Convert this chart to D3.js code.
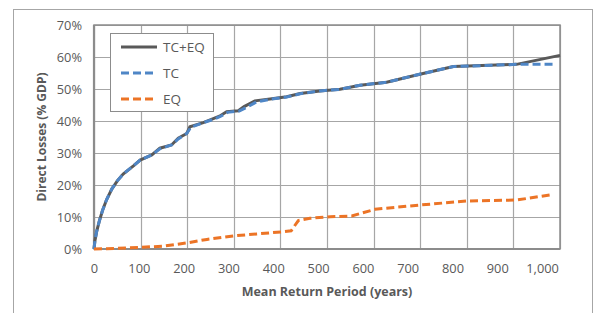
<!DOCTYPE html>
<html><head><meta charset="utf-8">
<script src="https://cdn.jsdelivr.net/npm/d3@7"></script>
<style>
html,body{margin:0;padding:0;background:#fff;}
svg{display:block;}
text{font-family:"Open Sans","Noto Sans",sans-serif;}
</style></head>
<body><svg id="c" width="594" height="313"></svg>
<script>
// ---- data ----
const seriesNames = ["TC+EQ", "TC", "EQ"];
const tcEqX = [0,2,6,12,19,28,40,52,65,88,103,129,147,173,188,207,214,244,262,280,296,322,335,359,393,430,460,504,549,594,653,720,802,943,1040];
const tcEqY = [0,2.5,5.5,8.8,12,15.4,18.8,21.3,23.4,26,27.8,29.4,31.5,32.5,34.6,36.1,38.2,39.5,40.5,41.5,42.9,43.2,44.5,46.3,46.9,47.6,48.6,49.4,49.9,51.2,52.1,54.4,57,57.7,60.5];
const tcX = [0,2,6,12,19,28,40,52,65,88,103,129,147,173,188,207,216,244,262,282,298,324,340,362,393,430,460,504,549,594,653,720,802,943,1028];
const tcY = [0,2.5,5.5,8.8,12,15.4,18.8,21.3,23.4,26,27.8,29.4,31.3,32.5,34.4,36.1,38,39.5,40.3,41.4,42.7,43.1,44.2,45.9,46.8,47.5,48.5,49.4,49.9,51.2,52.1,54.4,57,57.7,57.7];
const eqX = [0,28,103,155,207,252,311,363,422,440,456,482,527,575,627,728,832,943,1018];
const eqY = [0,0.1,0.5,0.9,1.9,3,4.1,4.7,5.4,5.7,8.9,9.6,10.1,10.3,12.4,13.75,15,15.3,16.9];
const xTickValues = [0,100,200,300,400,500,600,700,800,900,1000];
const xTickLabels = ["0","100","200","300","400","500","600","700","800","900","1,000"];
const yTickValues = [0,10,20,30,40,50,60,70];
const yTickLabels = ["0%","10%","20%","30%","40%","50%","60%","70%"];
const xGridValues = [0,104,208,312,416,520,624,728,832,936,1040];

// ---- layout ----
const svg = d3.select("#c");
const L = 94, R = 560, T = 25, B = 249;
const x = d3.scaleLinear().domain([0,1040]).range([L,R]);
const y = d3.scaleLinear().domain([0,70]).range([B,T]);
const gray = "#595959";

// outer frame
svg.append("rect").attr("x",13.5).attr("y",9.5).attr("width",579).attr("height",310)
  .attr("fill","none").attr("stroke","#a6a6a6").attr("stroke-width",1);

// gridlines
const g = svg.append("g");
g.selectAll(".hg").data(yTickValues).enter().append("line")
  .attr("x1",L).attr("x2",R).attr("y1",d=>Math.round(y(d))+0.5).attr("y2",d=>Math.round(y(d))+0.5)
  .attr("stroke","#a6a6a6").attr("stroke-width",1.2);
g.selectAll(".vg").data(xGridValues).enter().append("line")
  .attr("y1",T).attr("y2",B).attr("x1",d=>Math.round(x(d))+0.5).attr("x2",d=>Math.round(x(d))+0.5)
  .attr("stroke","#a6a6a6").attr("stroke-width",1.2);
// plot border
svg.append("rect").attr("x",L).attr("y",T).attr("width",R-L).attr("height",B-T)
  .attr("fill","none").attr("stroke","#8c8c8c").attr("stroke-width",1.5);
svg.append("line").attr("x1",L).attr("x2",R).attr("y1",B).attr("y2",B).attr("stroke","#8c8c8c").attr("stroke-width",2.2);
svg.append("line").attr("x1",L).attr("x2",L).attr("y1",T).attr("y2",B).attr("stroke","#8c8c8c").attr("stroke-width",2.2);

// axes (labels only)
const xAxis = d3.axisBottom(x).tickValues(xTickValues).tickFormat((d,i)=>xTickLabels[i]).tickSize(0).tickPadding(0);
const xa = svg.append("g").attr("transform",`translate(0,${B+14})`).call(xAxis);
xa.select(".domain").remove();
xa.selectAll("text").attr("fill",gray).attr("font-size","12.8px").attr("dy","0.32em").attr("y",6);

const yAxis = d3.axisLeft(y).tickValues(yTickValues).tickFormat((d,i)=>yTickLabels[i]).tickSize(0).tickPadding(0);
const ya = svg.append("g").attr("transform",`translate(${L-12},0)`).call(yAxis);
ya.select(".domain").remove();
ya.selectAll("text").attr("fill",gray).attr("font-size","12.8px");

// axis titles
svg.append("text").attr("x",(L+R)/2).attr("y",296).attr("text-anchor","middle")
  .attr("font-size","12.5px").attr("font-weight","bold").attr("fill",gray).text("Mean Return Period (years)");
svg.append("text").attr("transform","translate(46,137) rotate(-90)").attr("text-anchor","middle")
  .attr("font-size","12px").attr("font-weight","bold").attr("fill",gray).text("Direct Losses (% GDP)");

// lines
const line = d3.line().x(d=>x(d[0])).y(d=>y(d[1]));
const styles = [
  {color:"#595959", dash:null},
  {color:"#4f86c6", dash:"8,4"},
  {color:"#ec7426", dash:"8,4"}
];
const seriesData = [d3.zip(tcEqX,tcEqY), d3.zip(tcX,tcY), d3.zip(eqX,eqY)];
seriesData.forEach((d,i)=>{
  svg.append("path").datum(d).attr("d",line).attr("fill","none")
    .attr("stroke",styles[i].color).attr("stroke-width",3)
    .attr("stroke-dasharray",styles[i].dash);
});

// legend
const lg = svg.append("g");
lg.append("rect").attr("x",110.5).attr("y",33.5).attr("width",103).attr("height",78)
  .attr("fill","#fff").attr("stroke","#8c8c8c").attr("stroke-width",1);
seriesNames.forEach((n,i)=>{
  const yy = 47 + i*26;
  lg.append("line").attr("x1",121).attr("x2",157).attr("y1",yy).attr("y2",yy)
    .attr("stroke",styles[i].color).attr("stroke-width",3).attr("stroke-dasharray",styles[i].dash);
  lg.append("text").attr("x",163).attr("y",yy).attr("dy","0.35em")
    .attr("font-size","13.5px").attr("fill",gray).text(n);
});
</script></body></html>
